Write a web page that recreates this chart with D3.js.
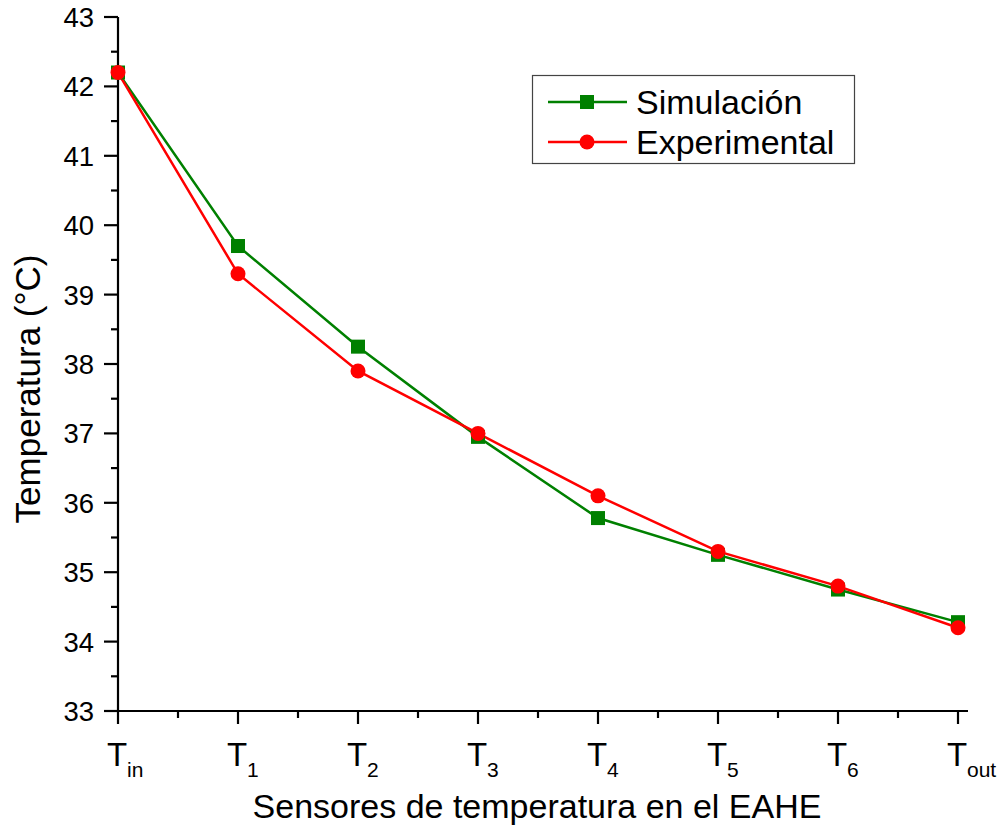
<!DOCTYPE html>
<html><head><meta charset="utf-8">
<script src="https://cdn.jsdelivr.net/npm/d3@7"></script>
<style>body{margin:0;background:#fff;} svg{display:block;font-family:"Liberation Sans",Arial,sans-serif;}</style>
</head><body>
<svg id="c" width="1001" height="832"></svg>
<script>
const categories = ["in","1","2","3","4","5","6","out"];
const simulacion = [42.2, 39.7, 38.25, 36.95, 35.78, 35.25, 34.75, 34.28];
const experimental = [42.2, 39.3, 37.9, 37.0, 36.1, 35.3, 34.8, 34.2];
const yTicks = [33,34,35,36,37,38,39,40,41,42,43];
const seriesNames = ["Simulación","Experimental"];

const svg = d3.select("#c");
const x = d3.scaleLinear().domain([0, categories.length-1]).range([118, 958]);
const y = d3.scaleLinear().domain([33, 43]).range([711, 17]);

// Y axis
const yMinor = d3.range(33.5, 43, 1);
const gy = svg.append("g").attr("transform","translate(118,0)");
gy.append("line").attr("x1",0).attr("x2",0).attr("y1",y(43)).attr("y2",y(33)).attr("stroke","#000").attr("stroke-width",2.2);
gy.selectAll(".ymaj").data(yTicks).join("line").attr("class","ymaj").attr("x1",-14).attr("x2",0)
  .attr("y1",d=>y(d)).attr("y2",d=>y(d)).attr("stroke","#000").attr("stroke-width",2.2);
gy.selectAll(".ymin").data(yMinor).join("line").attr("class","ymin").attr("x1",-7).attr("x2",0)
  .attr("y1",d=>y(d)).attr("y2",d=>y(d)).attr("stroke","#000").attr("stroke-width",2.2);
gy.selectAll(".ylab").data(yTicks).join("text").attr("class","ylab").attr("x",-24).attr("y",d=>y(d)+10)
  .attr("text-anchor","end").attr("font-size",27.5).text(d=>d);

// X axis
const xMinor = d3.range(0.5, categories.length-1, 1);
const gx = svg.append("g").attr("transform","translate(0,711)");
gx.append("line").attr("x1",117).attr("x2",968).attr("y1",0).attr("y2",0).attr("stroke","#000").attr("stroke-width",2.2);
gx.selectAll(".xmaj").data(d3.range(categories.length)).join("line").attr("class","xmaj")
  .attr("x1",d=>x(d)).attr("x2",d=>x(d)).attr("y1",0).attr("y2",13).attr("stroke","#000").attr("stroke-width",2.2);
gx.selectAll(".xmin").data(xMinor).join("line").attr("class","xmin")
  .attr("x1",d=>x(d)).attr("x2",d=>x(d)).attr("y1",0).attr("y2",7).attr("stroke","#000").attr("stroke-width",2.2);
const xl = gx.selectAll(".xlab").data(categories).join("g").attr("class","xlab")
  .attr("transform",(d,i)=>`translate(${x(i)},0)`);
xl.append("text").attr("x",-1).attr("y",55).attr("text-anchor","middle").attr("font-size",33).text("T");
xl.append("text").attr("x",9).attr("y",66).attr("text-anchor","start").attr("font-size",21).text(d=>d);

// Titles
svg.append("text").attr("x",537).attr("y",818).attr("text-anchor","middle").attr("font-size",34)
  .text("Sensores de temperatura en el EAHE");
svg.append("text").attr("transform","translate(40,389) rotate(-90)").attr("text-anchor","middle").attr("font-size",35)
  .text("Temperatura (°C)");

// Lines
const line = d3.line().x((d,i)=>x(i)).y(d=>y(d));
svg.append("path").datum(simulacion).attr("d",line).attr("fill","none").attr("stroke","#008000").attr("stroke-width",2.5);
svg.append("path").datum(experimental).attr("d",line).attr("fill","none").attr("stroke","#ff0000").attr("stroke-width",2.5);
svg.selectAll(".sq").data(simulacion).join("rect").attr("class","sq")
  .attr("x",(d,i)=>x(i)-7).attr("y",d=>y(d)-7).attr("width",14).attr("height",14).attr("fill","#008000");
svg.selectAll(".ci").data(experimental).join("circle").attr("class","ci")
  .attr("cx",(d,i)=>x(i)).attr("cy",d=>y(d)).attr("r",7.5).attr("fill","#ff0000");

// Legend
const lg = svg.append("g");
lg.append("rect").attr("x",532.5).attr("y",75.5).attr("width",322).attr("height",88).attr("fill","#fff").attr("stroke","#444").attr("stroke-width",1.2);
const rows = [{name:seriesNames[0], color:"#008000", shape:"sq", yy:102},{name:seriesNames[1], color:"#ff0000", shape:"ci", yy:142}];
rows.forEach(r=>{
  lg.append("line").attr("x1",548).attr("x2",627).attr("y1",r.yy).attr("y2",r.yy).attr("stroke",r.color).attr("stroke-width",2.5);
  if(r.shape==="sq") lg.append("rect").attr("x",580).attr("y",r.yy-7).attr("width",14).attr("height",14).attr("fill",r.color);
  else lg.append("circle").attr("cx",587).attr("cy",r.yy).attr("r",7.5).attr("fill",r.color);
  lg.append("text").attr("x",636).attr("y",r.yy+12).attr("font-size",34).text(r.name);
});
</script>
</body></html>
